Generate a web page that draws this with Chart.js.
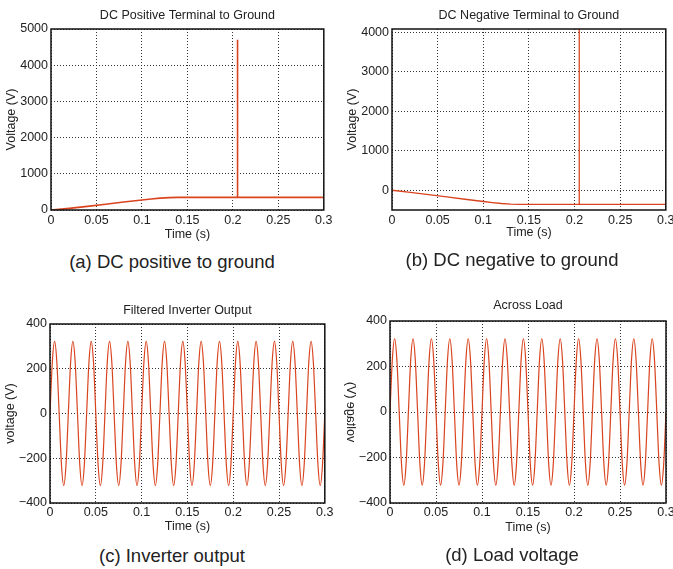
<!DOCTYPE html>
<html><head><meta charset="utf-8">
<script src="https://cdn.jsdelivr.net/npm/chart.js@4.4.0/dist/chart.umd.min.js"></script>
<style>
html,body{margin:0;padding:0;background:#fff;width:673px;height:569px;overflow:hidden;position:relative;font-family:'Liberation Sans',Arial,sans-serif;}
.panel{position:absolute;}
.panel canvas{display:block;}
.cap{position:absolute;font-size:18.5px;color:#222;transform:translateX(-50%);white-space:nowrap;line-height:20px;}
</style></head><body>
<div class="panel" style="left:0;top:0;"><canvas id="ca" width="336" height="245"></canvas></div>
<div class="panel" style="left:333px;top:0;"><canvas id="cb" width="345" height="245"></canvas></div>
<div class="panel" style="left:0;top:290px;"><canvas id="cc" width="336" height="245"></canvas></div>
<div class="panel" style="left:333px;top:290px;"><canvas id="cd" width="345" height="245"></canvas></div>
<div class="cap" style="left:172px;top:252px;">(a) DC positive to ground</div>
<div class="cap" style="left:512px;top:250px;">(b) DC negative to ground</div>
<div class="cap" style="left:172px;top:546px;">(c) Inverter output</div>
<div class="cap" style="left:512px;top:545px;">(d) Load voltage</div>
<script>
// ---------- data ----------
const xTicks = [0, 0.05, 0.1, 0.15, 0.2, 0.25, 0.3];
const yTicksA = [0, 1000, 2000, 3000, 4000, 5000];
const yTicksB = [0, 1000, 2000, 3000, 4000];
const yTicksAC = [-400, -200, 0, 200, 400];

const timePos = [0, 0.02, 0.04, 0.06, 0.08, 0.1, 0.11, 0.12, 0.13, 0.14, 0.205, 0.2051, 0.2052, 0.25, 0.3];
const posV    = [0, 45, 100, 160, 220, 276, 305, 328, 342, 350, 350, 4700, 350, 350, 350];

const timeNeg = [0, 0.02, 0.04, 0.06, 0.08, 0.1, 0.11, 0.12, 0.13, 0.14, 0.205, 0.2051, 0.2052, 0.25, 0.3];
const negV    = [0, -55, -112, -170, -228, -285, -312, -335, -350, -357, -357, 4200, -357, -357, -357];

const sineStep = 0.0025; // sample interval (s)
const inverterV = [
  0, 228, 322, 228, 0, -228, -322, -228,
  0, 228, 322, 228, 0, -228, -322, -228,
  0, 228, 322, 228, 0, -228, -322, -228,
  0, 228, 322, 228, 0, -228, -322, -228,
  0, 228, 322, 228, 0, -228, -322, -228,
  0, 228, 322, 228, 0, -228, -322, -228,
  0, 228, 322, 228, 0, -228, -322, -228,
  0, 228, 322, 228, 0, -228, -322, -228,
  0, 228, 322, 228, 0, -228, -322, -228,
  0, 228, 322, 228, 0, -228, -322, -228,
  0, 228, 322, 228, 0, -228, -322, -228,
  0, 228, 322, 228, 0, -228, -322, -228,
  0, 228, 322, 228, 0, -228, -322, -228,
  0, 228, 322, 228, 0, -228, -322, -228,
  0, 228, 322, 228, 0, -228, -322, -228,
  0
];
const loadV = [
  0, 228, 322, 228, 0, -228, -322, -228,
  0, 228, 322, 228, 0, -228, -322, -228,
  0, 228, 322, 228, 0, -228, -322, -228,
  0, 228, 322, 228, 0, -228, -322, -228,
  0, 228, 322, 228, 0, -228, -322, -228,
  0, 228, 322, 228, 0, -228, -322, -228,
  0, 228, 322, 228, 0, -228, -322, -228,
  0, 228, 322, 228, 0, -228, -322, -228,
  0, 228, 322, 228, 0, -228, -322, -228,
  0, 228, 322, 228, 0, -228, -322, -228,
  0, 228, 322, 228, 0, -228, -322, -228,
  0, 228, 322, 228, 0, -228, -322, -228,
  0, 228, 322, 228, 0, -228, -322, -228,
  0, 228, 322, 228, 0, -228, -322, -228,
  0, 228, 322, 228, 0, -228, -322, -228,
  0
];

// ---------- drawing ----------
const FONT = "'Liberation Sans', Arial, sans-serif";
const LINE = '#d9441f';
const GRID = '#333';
const TXT = '#222';

const frame = {
  id: 'frame',
  afterDraw(chart) {
    const a = chart.chartArea, ctx = chart.ctx;
    ctx.save();
    ctx.strokeStyle = '#111';
    ctx.lineWidth = 1.5;
    ctx.strokeRect(a.left, a.top, a.right - a.left, a.bottom - a.top);
    ctx.restore();
  }
};
const mirrorLabel = {
  id: 'mirrorLabel',
  afterDraw(chart, args, o) {
    if (!o || !o.text) return;
    const a = chart.chartArea, ctx = chart.ctx;
    ctx.save();
    ctx.translate(o.x, (a.top + a.bottom) / 2);
    ctx.scale(-1, 1);
    ctx.rotate(-Math.PI / 2);
    ctx.font = '12.5px ' + FONT;
    ctx.fillStyle = TXT;
    ctx.textAlign = 'center';
    ctx.textBaseline = 'middle';
    ctx.fillText(o.text, 0, 0);
    ctx.restore();
  }
};
const fmtY = v => (v < 0 ? '\u2212' + (-v) : String(v));

function pts(xs, ys) { return ys.map((y, i) => ({x: xs[i], y})); }
function sinePts(ys) { return ys.map((y, i) => ({x: i * sineStep, y})); }

function build(id, o) {
  new Chart(document.getElementById(id), {
    type: 'line',
    data: {datasets: [{
      data: o.points, borderColor: LINE, borderWidth: o.lw, pointRadius: 0,
      cubicInterpolationMode: o.mono ? 'monotone' : 'default', tension: 0, fill: false
    }]},
    options: {
      responsive: false, animation: false, events: [],
      layout: {padding: {left: 0, right: o.padR, top: 0, bottom: 0}},
      plugins: {
        legend: {display: false}, tooltip: {enabled: false},
        title: {display: true, text: o.title, fullSize: false, color: TXT,
          font: {family: FONT, size: 12.5, weight: 'normal'},
          padding: {top: o.tTop, bottom: o.tBot}},
        mirrorLabel: o.mirror || {}
      },
      scales: {
        x: {
          type: 'linear', min: 0, max: 0.3,
          afterFit: s => { s.height = o.xH; },
          afterBuildTicks: s => { s.ticks = xTicks.map(v => ({value: v})); },
          ticks: {padding: o.xPad, color: TXT, font: {family: FONT, size: 12.5}, maxRotation: 0, autoSkip: false, callback: v => String(v)},
          grid: {color: GRID, lineWidth: 1, drawTicks: false},
          border: {display: false, dash: [1, 2]},
          title: {display: true, text: 'Time (s)', color: TXT, font: {family: FONT, size: 12.5}, padding: {top: 0, bottom: o.xtPad}}
        },
        y: {
          type: 'linear', min: o.ymin, max: o.ymax,
          afterFit: s => { s.width = o.yW; },
          afterBuildTicks: s => { s.ticks = o.yTicks.map(v => ({value: v})); },
          ticks: {padding: 3, color: TXT, font: {family: FONT, size: 12.5}, autoSkip: false, callback: fmtY},
          grid: {color: GRID, lineWidth: 1, drawTicks: false},
          border: {display: false, dash: [1, 2]},
          title: {display: !o.mirror, text: o.ytitle, color: TXT, font: {family: FONT, size: 12.5}, padding: {top: o.ytPad, bottom: 0}}
        }
      }
    },
    plugins: [frame, mirrorLabel]
  });
}

build('ca', {points: pts(timePos, posV), lw: 1.6, title: 'DC Positive Terminal to Ground',
  padR: 10, tTop: 8, tBot: 6, xH: 35, xPad: 3.5, xtPad: 2.5, yW: 51, ymin: 0, ymax: 5000, yTicks: yTicksA,
  ytitle: 'Voltage (V)', ytPad: 4.5});
build('cb', {points: pts(timeNeg, negV), lw: 1.3, title: 'DC Negative Terminal to Ground',
  padR: 12, tTop: 8, tBot: 6, xH: 35, xPad: 3.5, xtPad: 4.5, yW: 59, ymin: -500, ymax: 4080, yTicks: yTicksB,
  ytitle: 'Voltage (V)', ytPad: 12.5});
build('cc', {points: sinePts(inverterV), lw: 1.2, mono: true, title: 'Filtered Inverter Output',
  padR: 10, tTop: 13.5, tBot: 5.5, xH: 32, xPad: 2.5, xtPad: 0.5, yW: 50, ymin: -400, ymax: 400, yTicks: yTicksAC,
  ytitle: 'voltage (V)', ytPad: 3.5});
build('cd', {points: sinePts(loadV), lw: 1.2, mono: true, title: 'Across Load',
  padR: 12, tTop: 8.5, tBot: 7.5, xH: 32, xPad: 2.5, xtPad: 0, yW: 57, ymin: -400, ymax: 400, yTicks: yTicksAC,
  ytitle: 'voltage (V)', ytPad: 3.5, mirror: {text: 'voltage (V)', x: 17}});
</script>
</body></html>
